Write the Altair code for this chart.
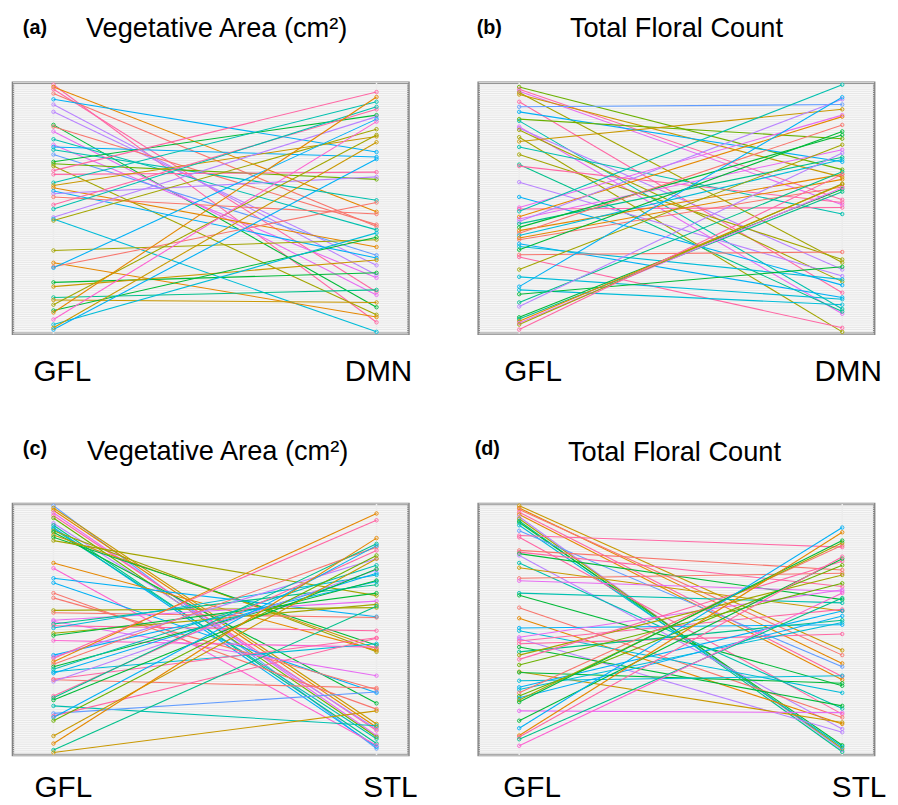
import altair as alt
import pandas as pd

# ggplot-like hue palette
PAL = {
    "red": "#F8766D", "orange": "#E58700", "gold": "#C99800", "olive": "#A3A500",
    "lime": "#6BB100", "green": "#00BA38", "teal": "#00C08B", "aqua": "#00C0AF",
    "cyan": "#00BCD8", "sky": "#00B0F6", "blue": "#619CFF", "purple": "#B983FF",
    "violet": "#E76BF3", "magenta": "#FD61D1", "pink": "#FF67A4",
}

# ---------------- panel (a): GFL vs DMN, Vegetative Area ----------------
A_GFL = [0.8, 1.7, 2.6, 4.3, 6.6, 8.7, 11.6, 16.8, 17.5, 19.4, 22.5, 24.7, 25.6, 26.7, 28.6,
         31.5, 32.3, 33.2, 35.0, 36.5, 39.8, 40.9, 41.8, 43.1, 44.2, 45.5, 48.6, 50.3, 53.6,
         54.3, 54.9, 66.8, 71.7, 73.3, 73.7, 79.5, 81.2, 85.5, 86.5, 88.4, 90.7, 91.5, 94.3,
         96.3, 97.6, 98.3]
A_DMN = [95.4, 51.4, 83.3, 57.3, 27.6, 76.6, 72.7, 89.4, 56.5, 84.5, 58.6, 77.7, 29.6, 46.8, 68.7,
         12.9, 38.5, 92.4, 3.7, 35.6, 7.6, 21.4, 65.4, 69.8, 37.5, 52.3, 10.6, 9.6, 13.5,
         99.2, 18.5, 62.5, 93.3, 47.7, 14.5, 75.7, 70.6, 82.5, 87.5, 20.8, 61.5, 5.7, 15.5,
         59.8, 23.7, 30.4]
A_COL = ["pink", "orange", "pink", "red", "sky", "purple", "purple", "green", "red", "violet",
         "aqua", "violet", "sky", "aqua", "blue", "green", "lime", "olive", "pink", "pink",
         "aqua", "gold", "orange", "sky", "purple", "red", "pink", "aqua", "purple", "cyan",
         "olive", "olive", "orange", "red", "sky", "green", "gold", "teal", "gold", "olive",
         "green", "orange", "magenta", "cyan", "gold", "sky"]

# ---------------- panel (b): GFL vs DMN, Total Floral Count ----------------
B_GFL = [1.7, 2.6, 3.4, 3.9, 4.7, 7.6, 9.6, 11.6, 14.5, 15.2, 17.5, 18.1, 18.8, 21.7, 23.4,
         25.6, 28.6, 32.6, 33.2, 39.6, 45.5, 49.7, 50.3, 51.2, 53.4, 54.3, 55.3, 56.2, 57.6,
         58.9, 59.9, 60.8, 61.8, 62.5, 64.1, 65.2, 66.5, 68.5, 69.4, 74.4, 77.3, 81.2, 82.5,
         84.2, 87.5, 89.1, 93.4, 94.1, 95.0, 95.7, 96.3, 98.3]
B_DMN = [34.6, 46.6, 48.6, 71.6, 37.6, 83.6, 8.7, 31.5, 22.3, 90.1, 92.0, 74.4, 79.2, 99.2, 10.6,
         52.3, 70.4, 91.1, 47.7, 77.0, 80.6, 12.9, 49.7, 0.8, 13.5, 26.7, 6.6, 29.7, 20.8,
         36.5, 16.8, 30.6, 38.5, 41.5, 85.5, 78.3, 19.4, 67.4, 97.6, 24.7, 86.2, 5.8, 88.4,
         73.3, 35.5, 28.0, 42.4, 43.4, 40.5, 41.8, 40.2, 36.5]
B_COL = ["lime", "pink", "violet", "olive", "gold", "pink", "blue", "sky", "lime", "aqua",
         "violet", "purple", "olive", "olive", "gold", "aqua", "olive", "teal", "pink", "purple",
         "sky", "violet", "pink", "aqua", "orange", "violet", "purple", "teal", "green",
         "orange", "red", "cyan", "orange", "red", "sky", "cyan", "green", "red", "pink",
         "olive", "cyan", "sky", "cyan", "green", "teal", "purple", "green", "teal", "orange",
         "violet", "olive", "pink"]

# ---------------- panel (c): GFL vs STL, Vegetative Area ----------------
C_GFL = [0.7, 1.6, 2.5, 3.5, 4.6, 5.6, 7.7, 8.5, 9.4, 10.0, 10.7, 11.3, 12.4, 13.3, 14.6,
         23.5, 25.6, 29.6, 31.4, 35.5, 37.4, 42.4, 43.3, 46.3, 46.8, 47.8, 48.5, 49.4, 51.5,
         52.4, 54.4, 60.2, 60.9, 61.5, 62.8, 63.8, 64.8, 65.8, 66.8, 67.4, 69.8, 70.0, 70.7,
         76.5, 77.2, 78.1, 80.4, 83.4, 84.4, 85.0, 86.3, 92.4, 95.4, 98.0, 99.0]
C_STL = [97.4, 87.6, 88.9, 92.2, 90.2, 92.8, 89.6, 95.4, 96.7, 93.5, 58.9, 79.4, 57.6, 56.3, 36.5,
         58.3, 96.1, 44.9, 75.2, 81.7, 73.9, 41.3, 45.2, 38.7, 68.4, 32.2, 50.5, 28.3, 40.0,
         35.5, 57.0, 30.9, 21.8, 6.5, 3.8, 17.2, 30.5, 24.4, 55.7, 27.6, 53.3, 73.3, 26.3,
         18.5, 15.9, 25.9, 88.3, 74.9, 53.5, 16.6, 20.5, 21.8, 13.6, 40.7, 82.4]
C_COL = ["blue", "gold", "orange", "violet", "pink", "lime", "purple", "teal", "sky", "aqua",
         "olive", "green", "gold", "green", "olive", "orange", "magenta", "sky", "sky", "red",
         "red", "olive", "red", "violet", "violet", "teal", "pink", "cyan", "olive", "green",
         "magenta", "sky", "purple", "pink", "orange", "red", "green", "aqua", "cyan", "sky",
         "pink", "red", "purple", "pink", "teal", "green", "aqua", "blue", "pink", "sky",
         "lime", "gold", "orange", "teal", "gold"]

# ---------------- panel (d): GFL vs STL, Total Floral Count ----------------
D_GFL = [0.7, 1.6, 2.2, 3.3, 4.2, 5.1, 5.9, 6.8, 7.4, 8.5, 10.7, 12.6, 13.3, 18.5, 19.2,
         19.8, 20.5, 23.5, 25.4, 29.6, 30.6, 35.5, 36.4, 41.3, 45.5, 49.4, 50.5, 53.1, 53.7,
         54.6, 55.7, 57.0, 58.9, 60.2, 61.9, 64.1, 66.8, 67.1, 70.4, 73.0, 73.9, 75.2, 76.5,
         77.2, 78.1, 78.9, 82.4, 86.3, 89.3, 92.2, 92.8, 93.7, 96.3]
D_STL = [58.3, 63.5, 60.2, 68.7, 70.0, 98.0, 97.4, 98.7, 96.1, 96.7, 64.8, 17.2, 83.7, 26.3, 32.9,
         38.1, 89.6, 81.5, 42.6, 27.6, 34.8, 39.4, 72.4, 85.0, 87.6, 48.1, 75.2, 34.2, 90.9,
         42.0, 51.8, 80.4, 46.3, 28.3, 22.8, 31.6, 87.0, 71.4, 68.4, 42.6, 47.2, 16.5, 24.4,
         44.6, 15.5, 14.6, 83.1, 21.8, 9.4, 11.3, 21.0, 37.5, 35.5]
D_COL = ["gold", "orange", "red", "pink", "orange", "purple", "olive", "teal", "green", "cyan",
         "blue", "pink", "pink", "red", "pink", "green", "purple", "aqua", "gold", "red",
         "violet", "aqua", "green", "red", "orange", "sky", "cyan", "violet", "purple", "pink",
         "pink", "green", "teal", "olive", "pink", "lime", "gold", "green", "cyan", "sky",
         "cyan", "red", "lime", "sky", "olive", "green", "violet", "green", "sky", "orange",
         "pink", "teal", "magenta"]

# background rank grid (one faint line per rank level)
GRID_N = 116
GRID_VALUES = [round(i * 100 / GRID_N, 3) for i in range(GRID_N + 1)]
X_BREAKS = [0, 1]

FONT = "Liberation Sans"
W, H = 400, 254
XDOM = [-0.1255, 1.0989]


def long_df(left, right, cols):
    rows = []
    for i, (l, r, c) in enumerate(zip(left, right, cols)):
        rows.append({"line": i, "x": 0, "y": l, "color": PAL[c]})
        rows.append({"line": i, "x": 1, "y": r, "color": PAL[c]})
    return pd.DataFrame(rows)


def panel(left, right, cols, tag, title, right_name, tag_x, title_x, title_y,
          lab_y, gfl_dx, right_dx):
    df = long_df(left, right, cols)
    xs = alt.Scale(domain=XDOM, nice=False, zero=False)
    ys = alt.Scale(domain=[0, 100], reverse=True, nice=False, zero=False)

    hgrid = alt.Chart(pd.DataFrame({"g": GRID_VALUES})).mark_rule(
        color="#E7E7E7", strokeWidth=1).encode(
        y=alt.Y("g:Q", scale=ys, axis=None))
    vgrid = alt.Chart(pd.DataFrame({"gx": X_BREAKS})).mark_rule(
        color="#ECECEC", strokeWidth=1.5).encode(
        x=alt.X("gx:Q", scale=xs, axis=None))

    base = alt.Chart(df)
    lines = base.mark_line(strokeWidth=1.1).encode(
        x=alt.X("x:Q", scale=xs, axis=None),
        y=alt.Y("y:Q", scale=ys, axis=None),
        detail="line:N",
        color=alt.Color("color:N", scale=None),
    )
    pts = base.mark_point(filled=False, size=12, strokeWidth=0.9, opacity=1).encode(
        x=alt.X("x:Q", scale=xs, axis=None),
        y=alt.Y("y:Q", scale=ys, axis=None),
        color=alt.Color("color:N", scale=None),
    )
    tdf = pd.DataFrame({"tag": [tag], "title": [title]})
    tag_txt = alt.Chart(tdf).mark_text(font=FONT, fontSize=20, fontWeight="bold",
                                       align="left", baseline="alphabetic").encode(
        x=alt.value(tag_x), y=alt.value(-49), text="tag:N")
    title_txt = alt.Chart(tdf).mark_text(font=FONT, fontSize=27.5, align="center",
                                         baseline="alphabetic").encode(
        x=alt.value(title_x), y=alt.value(title_y), text="title:N")
    ldf_l = pd.DataFrame({"x": [0], "lab": ["GFL"]})
    ldf_r = pd.DataFrame({"x": [1], "lab": [right_name]})
    lab_l = alt.Chart(ldf_l).mark_text(font=FONT, fontSize=30, align="center",
                                       baseline="alphabetic", dx=gfl_dx).encode(
        x=alt.X("x:Q", scale=xs, axis=None), y=alt.value(lab_y), text="lab:N")
    lab_r = alt.Chart(ldf_r).mark_text(font=FONT, fontSize=30, align="center",
                                       baseline="alphabetic", dx=right_dx).encode(
        x=alt.X("x:Q", scale=xs, axis=None), y=alt.value(lab_y), text="lab:N")
    return alt.layer(hgrid, vgrid, lines, pts, tag_txt, title_txt, lab_l, lab_r).properties(
        width=W, height=H)


pa = panel(A_GFL, A_DMN, A_COL, "(a)", "Vegetative Area (cm²)", "DMN", 10, 206, -46, H + 48, 9, 2)
pb = panel(B_GFL, B_DMN, B_COL, "(b)", "Total Floral Count", "DMN", -2, 200, -46, H + 48, 14, 6)
pc = panel(C_GFL, C_STL, C_COL, "(c)", "Vegetative Area (cm²)", "STL", 10, 207, -44, H + 42, 10, 14)
pd_ = panel(D_GFL, D_STL, D_COL, "(d)", "Total Floral Count", "STL", -4, 198, -43, H + 42, 13, 17)

chart = alt.concat(pa, pb, pc, pd_, columns=2, spacing={"row": 172, "column": 71},
                   bounds="flush").properties(
    padding={"left": 3, "top": 1, "right": 2, "bottom": 2},
    background="white",
).configure_view(
    stroke="#808080", strokeWidth=2.5, fill="#F8F8F8"
)

chart.save("out.html", embed_options={"renderer": "svg", "actions": False})
